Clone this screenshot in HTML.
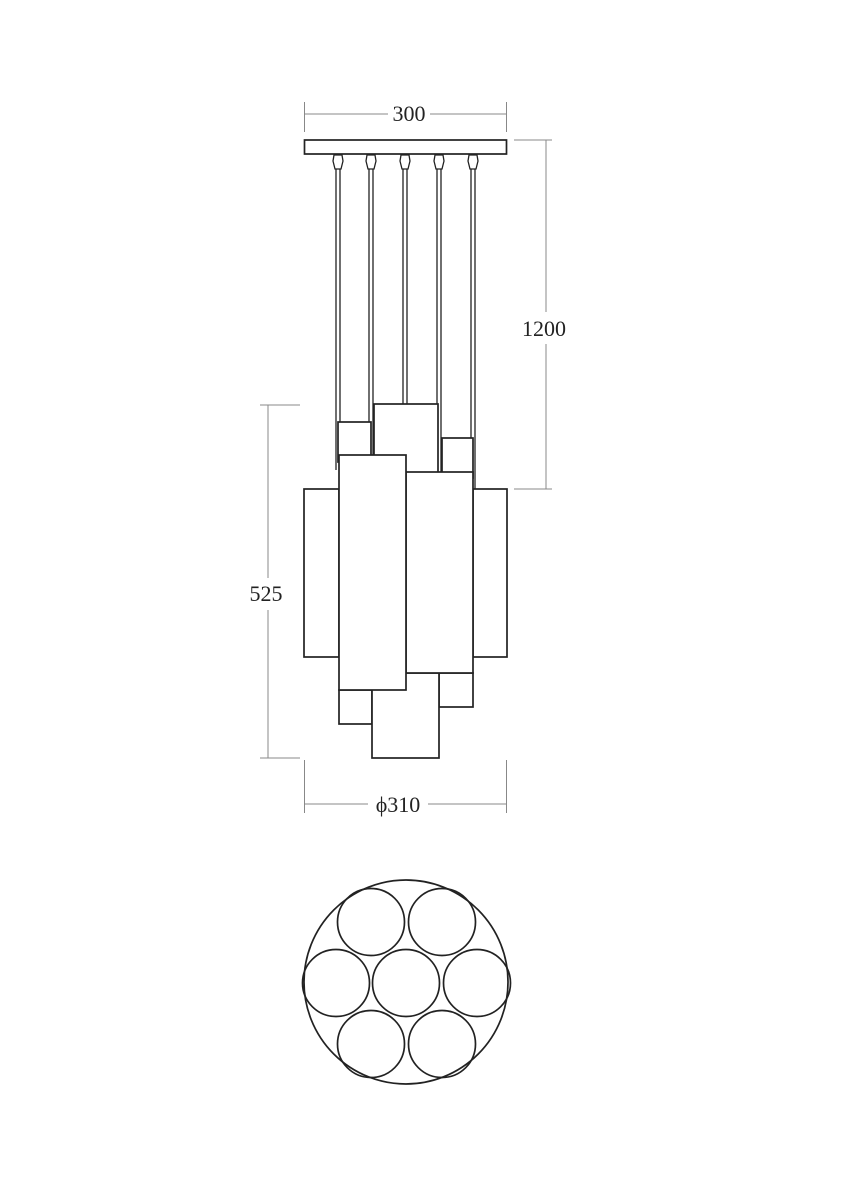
<!DOCTYPE html>
<html><head><meta charset="utf-8"><style>
html,body{margin:0;padding:0;background:#fff;}
svg{display:block;}
text{font-family:"Liberation Serif",serif;font-size:22px;fill:#222;}
</style></head><body>
<svg width="848" height="1200" viewBox="0 0 848 1200" xmlns="http://www.w3.org/2000/svg">
<g stroke="#888" stroke-width="1" fill="none">
<line x1="304.5" y1="102" x2="304.5" y2="132"/>
<line x1="506.5" y1="102" x2="506.5" y2="132"/>
<line x1="304.5" y1="114" x2="388" y2="114"/>
<line x1="430" y1="114" x2="506.5" y2="114"/>
<line x1="514" y1="140" x2="552" y2="140"/>
<line x1="514" y1="489" x2="552" y2="489"/>
<line x1="546" y1="140" x2="546" y2="312"/>
<line x1="546" y1="344" x2="546" y2="489"/>
<line x1="260" y1="405" x2="300" y2="405"/>
<line x1="260" y1="758" x2="300" y2="758"/>
<line x1="268" y1="405" x2="268" y2="578"/>
<line x1="268" y1="610" x2="268" y2="758"/>
<line x1="304.5" y1="760" x2="304.5" y2="813"/>
<line x1="506.5" y1="760" x2="506.5" y2="813"/>
<line x1="304.5" y1="804" x2="368" y2="804"/>
<line x1="428" y1="804" x2="506.5" y2="804"/>
</g>
<text x="409" y="121" text-anchor="middle">300</text>
<text x="544" y="336" text-anchor="middle">1200</text>
<text x="266" y="601" text-anchor="middle">525</text>
<text x="398" y="812" text-anchor="middle">ϕ310</text>

<g stroke="#222" stroke-width="1.7" fill="#fff">
<rect x="304.5" y="140" width="202" height="14"/>
<g stroke-width="1.3">
<line x1="336" y1="160" x2="336" y2="470"/><line x1="340" y1="160" x2="340" y2="470"/>
<line x1="369" y1="160" x2="369" y2="460"/><line x1="373" y1="160" x2="373" y2="460"/>
<line x1="403" y1="160" x2="403" y2="404"/><line x1="407" y1="160" x2="407" y2="404"/>
<line x1="437" y1="160" x2="437" y2="472"/><line x1="441" y1="160" x2="441" y2="472"/>
<line x1="471" y1="160" x2="471" y2="490"/><line x1="475" y1="160" x2="475" y2="490"/>
</g>
<g stroke-width="1.3">
<path d="M334 155 h8 l1 6 -2 8 h-6 l-2 -8z"/>
<path d="M367 155 h8 l1 6 -2 8 h-6 l-2 -8z"/>
<path d="M401 155 h8 l1 6 -2 8 h-6 l-2 -8z"/>
<path d="M435 155 h8 l1 6 -2 8 h-6 l-2 -8z"/>
<path d="M469 155 h8 l1 6 -2 8 h-6 l-2 -8z"/>
</g>
<rect x="374" y="404" width="64" height="70"/>
<rect x="338" y="422" width="33" height="40"/>
<rect x="442" y="438" width="31" height="40"/>
<rect x="304" y="489" width="35" height="168"/>
<rect x="473" y="489" width="34" height="168"/>
<rect x="339" y="690" width="33" height="34"/>
<rect x="439" y="673" width="34" height="34"/>
<rect x="372" y="673" width="67" height="85"/>
<rect x="406" y="472" width="67" height="201"/>
<rect x="339" y="455" width="67" height="235"/>
</g>
<g stroke="#222" stroke-width="1.7" fill="none">
<circle cx="406" cy="982" r="102"/>
<circle cx="406" cy="983" r="33.5"/>
<circle cx="336" cy="983" r="33.5"/>
<circle cx="477" cy="983" r="33.5"/>
<circle cx="371" cy="922" r="33.5"/>
<circle cx="442" cy="922" r="33.5"/>
<circle cx="371" cy="1044" r="33.5"/>
<circle cx="442" cy="1044" r="33.5"/>
</g>
</svg>
</body></html>
